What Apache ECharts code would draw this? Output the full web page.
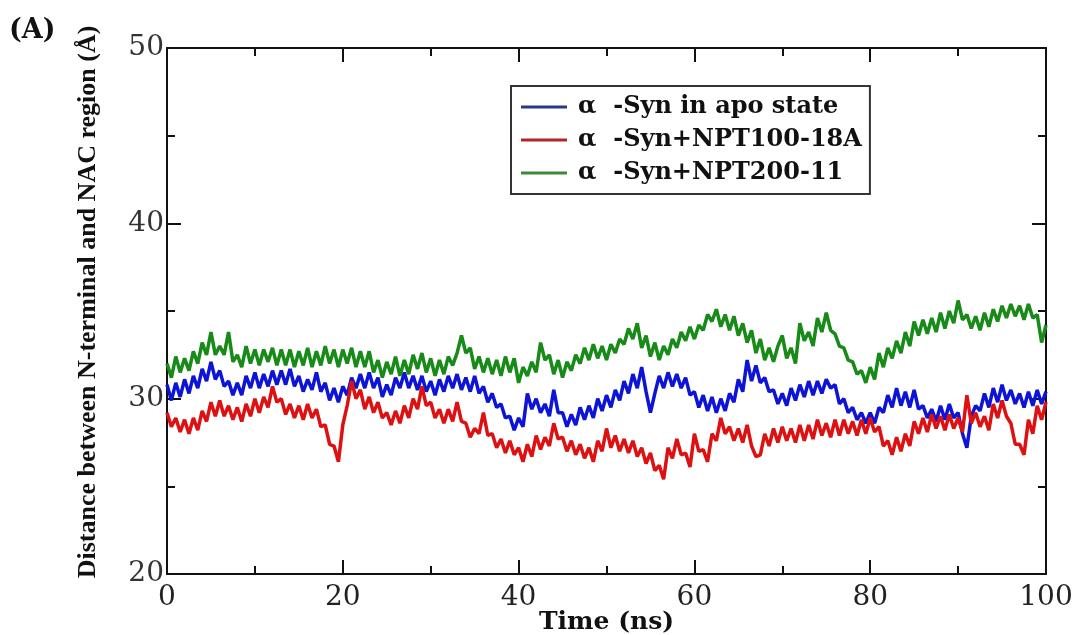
<!DOCTYPE html>
<html>
<head>
<meta charset="utf-8">
<script src="https://cdn.jsdelivr.net/npm/echarts@6/dist/echarts.min.js"></script>
<style>
html,body{margin:0;padding:0;background:#fff;}
#chart{width:1075px;height:635px;}
</style>
</head>
<body>
<div id="chart"></div>
<script>
// Sampling: one value every 0.5 ns, from 0 to 100 ns
const timeStart = 0;
const timeStep = 0.5;

const seriesNames = ['\u03b1  -Syn in apo state', '\u03b1  -Syn+NPT100-18A', '\u03b1  -Syn+NPT200-11'];

const apoValues = [
30.8,29.9,30.9,30.1,31.1,30.3,31.3,30.6,31.7,31.0,32.1,31.1,31.6,30.7,31.0,30.2,30.9,30.2,31.3,30.6,
31.5,30.6,31.4,30.7,31.6,30.8,31.6,30.8,31.7,30.7,31.3,30.4,31.1,30.5,31.5,30.4,30.9,29.9,30.6,29.8,
30.7,30.2,31.2,30.6,31.4,30.6,31.5,30.6,31.2,30.1,30.8,30.2,31.2,30.6,31.5,30.6,31.3,30.5,31.3,30.4,
31.0,30.2,31.1,30.4,31.3,30.6,31.4,30.5,31.2,30.4,31.3,30.3,30.7,29.8,30.3,29.5,29.7,28.9,29.0,28.2,
28.9,28.4,30.3,29.4,30.0,29.2,29.7,29.0,30.5,29.2,29.2,28.4,29.1,28.5,29.5,28.8,29.6,28.9,30.0,29.3,
30.2,29.5,30.5,29.9,31.0,30.3,31.4,30.6,31.8,30.4,29.2,30.3,31.3,30.6,31.5,30.7,31.4,30.6,31.2,30.2,
30.4,29.5,30.2,29.3,30.1,29.2,30.0,29.3,30.3,29.8,31.1,30.4,32.2,31.0,31.9,30.9,31.2,30.4,30.5,29.7,
30.3,29.6,30.6,29.9,30.8,30.1,31.0,30.2,31.0,30.3,31.1,30.6,30.8,29.7,30.0,29.2,29.5,28.8,29.2,28.6,
29.2,28.6,29.5,29.2,30.2,29.5,30.6,29.6,30.4,29.5,30.5,29.4,29.6,28.9,29.4,28.7,29.6,28.8,29.7,28.9,
29.2,28.0,27.2,29.0,29.6,29.3,30.3,29.5,30.6,29.8,30.8,29.9,30.5,29.7,30.3,29.5,30.4,29.6,30.5,29.7,
30.4];

const npt100Values = [
29.2,28.4,28.9,28.1,28.8,28.0,28.9,28.2,29.3,28.7,29.8,29.0,29.9,29.0,29.6,28.8,29.5,28.7,29.7,29.0,
30.0,29.2,30.1,29.5,30.7,29.8,30.0,29.1,29.7,28.9,29.6,28.8,29.7,28.9,29.4,28.4,28.5,27.4,27.3,26.4,
28.5,29.6,31.0,30.0,30.5,29.4,30.1,29.2,29.8,28.9,29.2,28.5,29.3,28.6,29.6,28.9,30.0,29.4,30.7,29.6,
29.8,28.9,29.4,28.6,29.4,28.7,29.8,28.7,28.6,27.8,28.3,28.0,29.2,27.9,28.0,27.2,27.7,26.9,27.6,26.8,
27.2,26.4,27.4,26.7,27.9,27.1,27.8,27.3,28.6,27.7,27.8,27.0,27.6,26.8,27.4,26.6,27.2,26.4,27.6,27.0,
28.3,27.2,27.9,27.0,27.7,26.9,27.6,26.7,27.2,26.3,26.9,25.9,26.2,25.4,27.2,26.6,27.7,26.8,26.9,26.1,
28.0,27.0,27.1,26.4,28.0,27.6,28.9,28.0,28.4,27.6,28.3,27.5,28.5,27.3,26.7,26.8,28.0,27.3,28.3,27.5,
28.4,27.6,28.3,27.5,28.5,27.6,28.5,27.7,28.8,27.9,28.6,27.8,28.8,27.9,28.8,28.0,28.7,27.9,28.8,28.0,
28.9,28.1,28.4,27.3,27.6,26.8,27.8,27.0,28.0,27.3,28.7,28.0,28.9,28.1,29.1,28.3,29.0,28.2,29.1,28.3,
28.9,28.1,30.2,28.6,29.2,28.4,29.0,28.2,29.7,28.9,29.9,29.0,28.6,27.4,27.4,26.8,28.8,28.0,29.6,28.8,
29.8];

const npt200Values = [
32.0,31.2,32.4,31.5,32.3,31.6,32.7,32.0,33.2,32.5,33.8,32.5,33.0,32.5,33.8,32.1,32.5,31.8,33.0,32.0,
32.8,31.9,32.8,32.1,32.9,31.9,32.8,31.9,32.8,31.8,32.7,31.9,32.9,31.8,32.7,31.9,33.0,32.0,32.8,31.8,
32.8,32.0,32.9,31.8,32.7,31.8,32.7,31.5,32.2,31.2,32.1,31.4,32.4,31.3,32.2,31.4,32.5,31.7,32.6,31.5,
32.3,31.3,32.2,31.4,32.4,31.9,32.6,33.6,32.6,32.9,31.7,32.4,31.5,32.3,31.4,32.2,31.3,32.4,31.5,32.3,
30.9,31.8,31.3,32.1,31.5,33.2,32.2,32.5,31.4,32.2,31.2,32.1,31.6,32.5,32.0,32.9,32.2,33.1,32.3,33.0,
32.2,33.1,32.6,33.4,33.1,34.0,33.4,34.3,32.9,33.6,32.4,33.2,32.2,33.0,32.5,33.4,32.9,33.8,33.3,34.1,
33.4,34.2,33.9,34.8,34.4,35.1,34.1,34.8,33.9,34.7,33.6,34.3,33.2,33.9,32.6,33.4,32.2,32.9,32.1,33.0,
33.6,32.3,32.9,32.0,34.3,33.3,33.8,33.0,34.6,33.8,34.9,33.9,33.7,33.0,32.9,32.2,32.1,31.4,31.6,30.9,
31.8,31.1,32.6,31.8,32.9,32.3,33.3,32.6,33.8,33.0,34.4,33.6,34.5,33.7,34.6,33.8,34.9,34.0,35.0,34.3,
35.6,34.5,34.8,34.0,34.7,33.9,34.9,34.1,35.1,34.4,35.3,34.6,35.4,34.7,35.3,34.5,35.4,34.6,34.8,33.2,
34.2];

const xTicks = [0, 20, 40, 60, 80, 100];
const yTicks = [20, 30, 40, 50];

const colors = ['#0d14d6', '#dd1111', '#178a17'];
const legendColors = ['#2c3590', '#b0262a', '#3d8a3d'];

function pairs(vals) {
  return vals.map((v, i) => [timeStart + i * timeStep, v]);
}

const chart = echarts.init(document.getElementById('chart'), null, {renderer: 'canvas'});
const wideSerif = '"DejaVu Serif", "Liberation Serif", serif';
const serif = '"Liberation Serif", "DejaVu Serif", serif';
const axisLineStyle = {color: '#111', width: 2};
const tickStyle = {color: '#111', width: 2};

const option = {
  animation: false,
  backgroundColor: '#fff',
  grid: {left: 167, right: 29, top: 48, bottom: 61, containLabel: false, outerBoundsMode: 'none'},
  graphic: [{
    type: 'text', left: 9, top: 17,
    style: {text: '(A)', font: 'bold 27px ' + wideSerif, fill: '#111'}
  }],
  legend: {
    orient: 'vertical',
    left: 511, top: 86,
    data: seriesNames.map((n, k) => ({name: n, itemStyle: {color: legendColors[k]}})),
    icon: 'rect',
    backgroundColor: '#fff',
    borderColor: '#333',
    borderWidth: 2,
    borderRadius: 0,
    padding: [9, 8, 9, 10],
    itemGap: 9,
    itemWidth: 46,
    itemHeight: 3,
    textStyle: {fontFamily: wideSerif, fontWeight: 'bold', fontSize: 24, lineHeight: 24, color: '#111', padding: [0, 0, 0, 6]}
  },
  xAxis: [{
    type: 'value', min: xTicks[0], max: xTicks[xTicks.length - 1], interval: 20,
    name: 'Time (ns)', nameLocation: 'middle', nameGap: 36, nameMoveOverlap: false,
    nameTextStyle: {fontFamily: wideSerif, fontWeight: 'bold', fontSize: 25, color: '#111'},
    axisLine: {show: true, lineStyle: axisLineStyle},
    axisTick: {show: true, inside: true, length: 14, lineStyle: tickStyle},
    minorTick: {show: true, splitNumber: 2, length: 8, lineStyle: tickStyle},
    axisLabel: {fontFamily: wideSerif, fontSize: 28, color: '#222', margin: 10},
    splitLine: {show: false}
  }, {
    type: 'value', position: 'top', min: xTicks[0], max: xTicks[xTicks.length - 1], interval: 20,
    axisLine: {show: true, onZero: false, lineStyle: axisLineStyle},
    axisTick: {show: true, inside: true, length: 14, lineStyle: tickStyle},
    minorTick: {show: true, splitNumber: 2, length: 8, lineStyle: tickStyle},
    axisLabel: {show: false},
    splitLine: {show: false}
  }],
  yAxis: [{
    type: 'value', min: yTicks[0], max: yTicks[yTicks.length - 1], interval: 10,
    name: 'Distance between N-terminal and NAC region (\u00c5)', nameLocation: 'middle', nameGap: 66, nameMoveOverlap: false,
    nameTextStyle: {fontFamily: serif, fontWeight: 'bold', fontSize: 26, color: '#111', padding: [0, 0, 0, 18]},
    axisLine: {show: true, onZero: false, lineStyle: axisLineStyle},
    axisTick: {show: true, inside: true, length: 14, lineStyle: tickStyle},
    minorTick: {show: true, splitNumber: 2, length: 8, lineStyle: tickStyle},
    axisLabel: {fontFamily: wideSerif, fontSize: 28, color: '#333', margin: 3},
    splitLine: {show: false}
  }, {
    type: 'value', position: 'right', min: yTicks[0], max: yTicks[yTicks.length - 1], interval: 10,
    axisLine: {show: true, onZero: false, lineStyle: axisLineStyle},
    axisTick: {show: true, inside: true, length: 14, lineStyle: tickStyle},
    minorTick: {show: true, splitNumber: 2, length: 8, lineStyle: tickStyle},
    axisLabel: {show: false},
    splitLine: {show: false}
  }],
  series: [apoValues, npt100Values, npt200Values].map((vals, k) => ({
    name: seriesNames[k],
    type: 'line',
    xAxisIndex: 0, yAxisIndex: 0,
    data: pairs(vals),
    showSymbol: false,
    symbol: 'none',
    color: colors[k],
    lineStyle: {width: 3.5, color: colors[k]},
    z: 2 + k
  }))
};
chart.setOption(option);
</script>
</body>
</html>
